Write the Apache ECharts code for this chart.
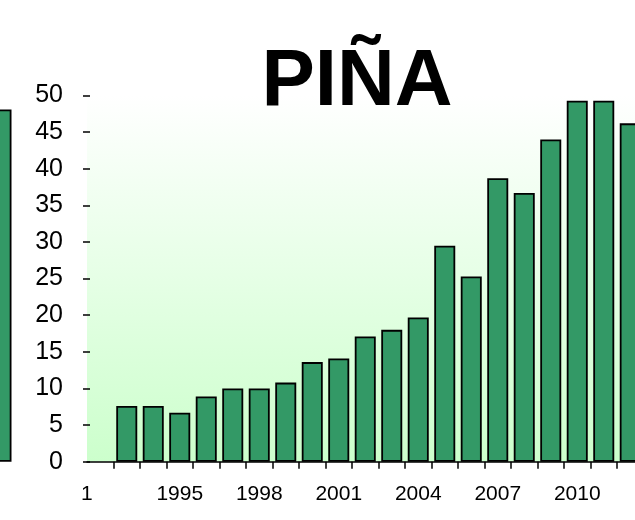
<!DOCTYPE html>
<html>
<head>
<meta charset="utf-8">
<title>PIÑA</title>
<script src="https://cdn.jsdelivr.net/npm/echarts@6/dist/echarts.min.js"></script>
<style>
  html, body { margin: 0; padding: 0; background: #ffffff; }
  #chart { width: 635px; height: 520px; }
</style>
</head>
<body>
<div id="chart"></div>
<script>
// Years on the category axis (1992 slot has no bar)
const years = ['1992', '1993', '1994', '1995', '1996', '1997', '1998', '1999', '2000', '2001',
  '2002', '2003', '2004', '2005', '2006', '2007', '2008', '2009', '2010', '2011', '2012'];

// Production values per year
const values = [null, 7.6, 7.6, 6.7, 8.9, 10.0, 10.0, 10.8, 13.6, 14.1,
  17.1, 18.0, 19.7, 29.5, 25.3, 38.7, 36.7, 44.0, 49.3, 49.3, 46.2];

// Text shown under each year slot
const xTickLabels = ['1', '', '', '1995', '', '', '1998', '', '', '2001',
  '', '', '2004', '', '', '2007', '', '', '2010', '', ''];

// Neighbouring panel: one bar at the left edge
const sideCategories = ['prev'];
const sideValues = [48.1];

const yMin = 0, yMax = 50, yStep = 5;

const barColor = '#339966';
const font = 'Arial, "Liberation Sans", Helvetica, sans-serif';

const chart = echarts.init(document.getElementById('chart'), null, { renderer: 'canvas' });

chart.setOption({
  backgroundColor: '#ffffff',
  animation: false,
  title: {
    text: 'PIÑA',
    left: 352,
    top: 38,
    textAlign: 'center',
    textStyle: { fontFamily: font, fontSize: 80, fontWeight: 'bold', color: '#000000' }
  },
  grid: [
    {
      left: 87, right: -8.5, top: 95.5, bottom: 58.3,
      outerBoundsMode: 'none',
      containLabel: false,
      show: true,
      borderWidth: 0,
      backgroundColor: new echarts.graphic.LinearGradient(0, 0, 0, 1, [
        { offset: 0, color: '#ffffff' },
        { offset: 1, color: '#ccffcc' }
      ])
    },
    {
      left: -40, width: 51.5, top: 95.5, bottom: 58.3,
      outerBoundsMode: 'none',
      containLabel: false
    }
  ],
  xAxis: [
    {
      type: 'category',
      gridIndex: 0,
      data: years,
      boundaryGap: true,
      axisLine: { show: true, lineStyle: { color: '#000000', width: 1.5 } },
      axisTick: {
        show: true, length: 7, inside: false,
        interval: function (index) { return index !== 0; },
        lineStyle: { color: '#000000', width: 1.5 }
      },
      axisLabel: {
        interval: 0,
        margin: 22,
        fontFamily: font,
        fontSize: 21,
        color: '#000000',
        formatter: function (value, index) {
          const t = xTickLabels[index];
          return index === 0 ? '{first|' + t + '}' : t;
        },
        rich: {
          first: { fontFamily: font, fontSize: 21, color: '#000000', padding: [0, 27, 0, 0] }
        }
      },
      splitLine: { show: false }
    },
    {
      type: 'category',
      gridIndex: 1,
      data: sideCategories,
      show: false
    }
  ],
  yAxis: [
    {
      type: 'value',
      gridIndex: 0,
      min: yMin, max: yMax, interval: yStep,
      offset: -3,
      axisLine: { show: false },
      axisTick: { show: true, length: 7, lineStyle: { color: '#000000', width: 1.5 } },
      axisLabel: {
        margin: 27,
        fontFamily: font,
        fontSize: 25,
        color: '#000000'
      },
      splitLine: { show: false }
    },
    {
      type: 'value',
      gridIndex: 1,
      min: yMin, max: yMax,
      show: false,
      splitLine: { show: false }
    }
  ],
  series: [
    {
      type: 'bar',
      xAxisIndex: 0, yAxisIndex: 0,
      data: values,
      barCategoryGap: '20.75%',
      itemStyle: { color: barColor, borderColor: '#000000', borderWidth: 1.8 }
    },
    {
      type: 'bar',
      xAxisIndex: 1, yAxisIndex: 1,
      data: sideValues,
      barCategoryGap: '0%',
      itemStyle: { color: barColor, borderColor: '#000000', borderWidth: 1.8 }
    }
  ]
});
</script>
</body>
</html>
